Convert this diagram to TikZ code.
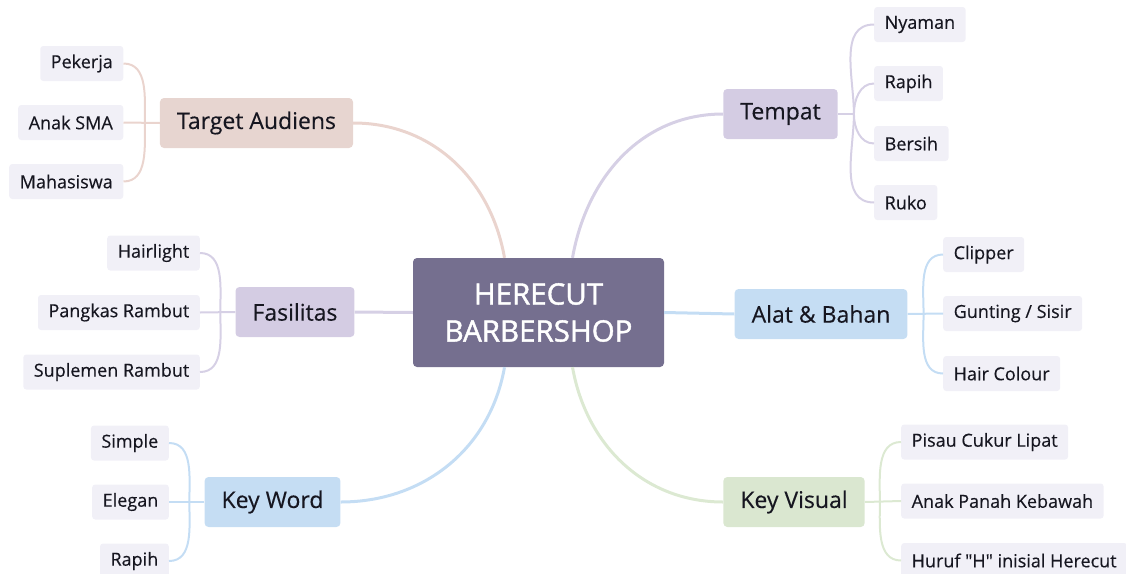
\documentclass[tikz,border=0pt]{standalone}
\usepackage{fontspec}
\setmainfont{Open Sans}[FakeBold=0.3, Ligatures=TeXOff]
\newfontfamily\centrefont{Open Sans}[FakeBold=1.4]
\usepackage{tikz}
\usetikzlibrary{calc}

\definecolor{centrefill}{RGB}{117,111,143}
\definecolor{leaffill}{RGB}{241,240,247}
\definecolor{inkdark}{RGB}{22,22,32}
\definecolor{pinkfill}{RGB}{231,213,208}
\definecolor{pinkline}{RGB}{234,212,206}
\definecolor{lavfill}{RGB}{212,204,227}
\definecolor{lavline}{RGB}{214,208,229}
\definecolor{bluefill}{RGB}{197,221,243}
\definecolor{blueline}{RGB}{196,221,244}
\definecolor{greenfill}{RGB}{218,231,208}
\definecolor{greenline}{RGB}{220,233,210}

\tikzset{
  centre/.style={rounded corners=4pt, fill=centrefill, text=white, align=center,
    minimum width=251pt, minimum height=109pt, inner sep=0pt,
    font=\centrefont\fontsize{29.5}{37}\selectfont},
  topic/.style={rounded corners=4pt, text=inkdark, minimum height=50pt,
    inner xsep=17pt, font=\fontsize{23}{27}\selectfont},
  leaf/.style={rounded corners=3pt, fill=leaffill, text=inkdark, minimum height=35pt,
    inner xsep=10.5pt, font=\fontsize{18}{22}\selectfont},
  trunk/.style={line width=3pt},
  twig/.style={line width=2pt}
}

\begin{document}
\begin{tikzpicture}[x=1pt, y=1pt]
\useasboundingbox (0,0) rectangle (1126,-573);

% centre and main topics
\node[centre] (hc) at (538.5,-312.5) {HERECUT\\BARBERSHOP};
\node[topic, fill=pinkfill] (ta) at (256.5,-123) {Target Audiens};
\node[topic, fill=lavfill] (fs) at (295,-312) {Fasilitas};
\node[topic, fill=bluefill] (kw) at (272.5,-502) {Key Word};
\node[topic, fill=lavfill] (tp) at (780.5,-114) {Tempat};
\node[topic, fill=bluefill] (ab) at (821,-314) {Alat \& Bahan};
\node[topic, fill=greenfill] (kv) at (794,-502) {Key Visual};

% leaves
\foreach \n/\y/\t in {ta1/63.5/Pekerja, ta2/122.5/Anak SMA, ta3/181.5/Mahasiswa}
  \node[leaf, anchor=east] (\n) at (123.5,-\y) {\t};
\foreach \n/\y/\t in {fs1/253/Hairlight, fs2/312.5/Pangkas Rambut, fs3/372/Suplemen Rambut}
  \node[leaf, anchor=east] (\n) at (200,-\y) {\t};
\foreach \n/\y/\t in {kw1/443/Simple, kw2/502/Elegan, kw3/561/Rapih}
  \node[leaf, anchor=east] (\n) at (169,-\y) {\t};
\foreach \n/\y/\t in {tp1/24.5/Nyaman, tp2/83.5/Rapih, tp3/143.5/Bersih, tp4/202.5/Ruko}
  \node[leaf, anchor=west] (\n) at (874,-\y) {\t};
\foreach \n/\y/\t in {ab1/254.5/Clipper, ab2/313.5/{Gunting / Sisir}, ab3/373.5/Hair Colour}
  \node[leaf, anchor=west] (\n) at (943,-\y) {\t};
\foreach \n/\y/\t in {kv1/442/Pisau Cukur Lipat, kv2/501/Anak Panah Kebawah,
    kv3/560.5/Huruf "H" inisial Herecut}
  \node[leaf, anchor=west] (\n) at (901,-\y) {\t};

% main branches
\draw[trunk, pinkline] (ta.east) to[out=0, in=100] ([xshift=-34pt]hc.north);
\draw[trunk, lavline] (tp.west) to[out=180, in=80] ([xshift=34pt]hc.north);
\draw[trunk, blueline] (kw.east) to[out=0, in=-100] ([xshift=-34pt]hc.south);
\draw[trunk, greenline] (kv.west) to[out=180, in=-80] ([xshift=34pt]hc.south);
\draw[trunk, lavline] (hc.west) -- (fs.east);
\draw[trunk, blueline] (hc.east) -- (ab.west);

% forks
\coordinate (taf) at ([xshift=-15pt]ta.west);
\coordinate (fsf) at ([xshift=-15pt]fs.west);
\coordinate (kwf) at ([xshift=-15pt]kw.west);
\coordinate (tpf) at ([xshift=16pt]tp.east);
\coordinate (abf) at ([xshift=16pt]ab.east);
\coordinate (kvf) at ([xshift=15pt]kv.east);

\draw[twig, pinkline] (ta.west) -- (ta2.east);
\draw[twig, lavline] (fs.west) -- (fs2.east);
\draw[twig, blueline] (kw.west) -- (kw2.east);
\draw[twig, blueline] (ab.east) -- (ab2.west);
\draw[twig, greenline] (kv.east) -- (kv2.west);
\draw[twig, lavline] (tp.east) -- (tpf);

\foreach \n/\o in {ta1/90, ta3/-90}
  \draw[twig, pinkline] (taf) to[out=\o, in=0] (\n.east);
\foreach \n/\o in {fs1/90, fs3/-90}
  \draw[twig, lavline] (fsf) to[out=\o, in=0] (\n.east);
\foreach \n/\o in {kw1/90, kw3/-90}
  \draw[twig, blueline] (kwf) to[out=\o, in=0] (\n.east);
\foreach \n/\o in {tp1/90, tp2/90, tp3/-90, tp4/-90}
  \draw[twig, lavline] (tpf) to[out=\o, in=180] (\n.west);
\foreach \n/\o in {ab1/90, ab3/-90}
  \draw[twig, blueline] (abf) to[out=\o, in=180] (\n.west);
\foreach \n/\o in {kv1/90, kv3/-90}
  \draw[twig, greenline] (kvf) to[out=\o, in=180] (\n.west);
\end{tikzpicture}
\end{document}
